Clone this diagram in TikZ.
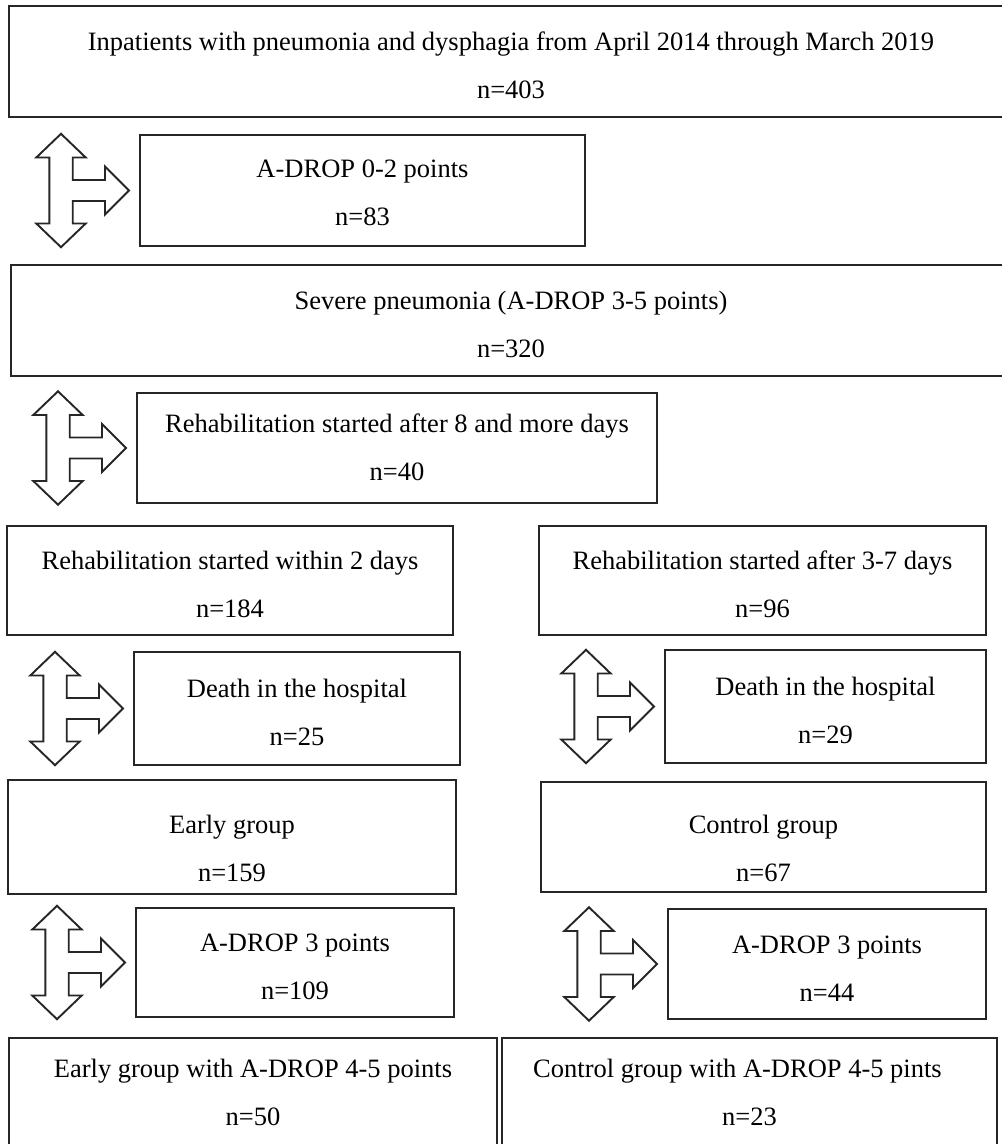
\documentclass[tikz,border=0pt]{standalone}
\usepackage{fontspec}
\setmainfont{Liberation Serif}
\usetikzlibrary{calc}

% three-way block arrow, its right tip placed just left of a box
\newcommand{\splitarrow}[1]{%
  \draw[split,shift={($(#1.west)+(-11,0)$)}] (0,0) -- (-24,-24) -- (-24,-10.5) -- (-56.3,-10.5) -- (-56.3,-33)
    -- (-43.3,-33) -- (-68,-56.7) -- (-92.7,-33) -- (-79.7,-33) -- (-79.7,33) -- (-92.7,33) -- (-68,56.7)
    -- (-43.3,33) -- (-56.3,33) -- (-56.3,10.5) -- (-24,10.5) -- (-24,24) -- cycle;}

\begin{document}
\begin{tikzpicture}[
x=1pt,y=-1pt,
box/.style={draw=black!85,line width=2.1pt,align=center,inner sep=0pt,outer sep=0pt,
  text height=75pt,font=\fontsize{26.5}{48}\selectfont},
low/.style={text height=89pt},
high/.style={text height=65pt},
split/.style={draw=black!85,line width=1.9pt,line join=miter,fill=white},
]
\useasboundingbox (0,0) rectangle (1002,1144);
\clip (0,0) rectangle (1002,1144);

\node[box,minimum width=1004pt,minimum height=111pt] (cohort) at (511,61.5) {Inpatients with pneumonia and dysphagia from April 2014 through March 2019\\n=403};
\node[box,minimum width=445pt,minimum height=111pt,text height=70pt] (mild) at (362.5,190.5) {A-DROP 0-2 points\\n=83};
\node[box,minimum width=1000pt,minimum height=111pt] (severe) at (511,320.5) {Severe pneumonia (A-DROP 3-5 points)\\n=320};
\node[box,high,minimum width=520pt,minimum height=110pt] (late) at (397,448) {Rehabilitation started after 8 and more days\\n=40};
\node[box,minimum width=446pt,minimum height=109pt] (within2) at (230,580.5) {Rehabilitation started within 2 days\\n=184};
\node[box,minimum width=447pt,minimum height=109pt] (after37) at (762.5,580.5) {Rehabilitation started after 3-7 days\\n=96};
\node[box,minimum width=326pt,minimum height=113pt] (deathE) at (297,708.5) {Death in the hospital\\n=25};
\node[box,minimum width=321pt,minimum height=113pt] (deathC) at (825.5,706.5) {Death in the hospital\\n=29};
\node[box,low,minimum width=448pt,minimum height=114pt] (early) at (232,837) {Early group\\n=159};
\node[box,low,minimum width=445pt,minimum height=110pt] (control) at (763.5,837) {Control group\\n=67};
\node[box,minimum width=318pt,minimum height=109pt] (adropE) at (295,962.5) {A-DROP 3 points\\n=109};
\node[box,minimum width=318pt,minimum height=110pt] (adropC) at (827,964) {A-DROP 3 points\\n=44};
\node[box,high,minimum width=488pt,minimum height=111pt] (earlyHigh) at (253,1093.5) {Early group with A-DROP 4-5 points\\n=50};
\node[box,high,minimum width=495pt,minimum height=111pt] (controlHigh) at (749.5,1093.5) {Control group with A-DROP 4-5 pints\hspace*{24pt}\\n=23};

\splitarrow{mild}
\splitarrow{late}
\splitarrow{deathE}
\splitarrow{deathC}
\splitarrow{adropE}
\splitarrow{adropC}
\end{tikzpicture}
\end{document}
